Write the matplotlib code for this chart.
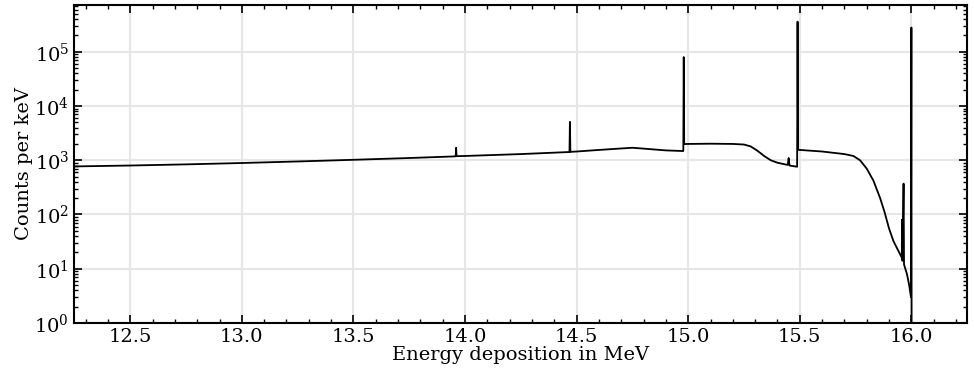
import matplotlib
matplotlib.use("Agg")
import matplotlib.pyplot as plt
from matplotlib.ticker import MultipleLocator, LogLocator, NullFormatter

# spectrum (MeV, counts per keV)
energy = [12.25, 12.5, 12.75, 13.0, 13.25, 13.5, 13.75, 13.958, 13.96, 13.962,
          14.0, 14.25, 14.468, 14.47, 14.472, 14.5, 14.6, 14.7, 14.75, 14.8,
          14.9, 14.978, 14.98, 14.982, 15.0, 15.1, 15.2, 15.25, 15.28, 15.31,
          15.34, 15.37, 15.4, 15.446, 15.45, 15.454, 15.47, 15.488, 15.49, 15.492,
          15.5, 15.6, 15.7, 15.74, 15.77, 15.8, 15.83, 15.86, 15.88, 15.9,
          15.92, 15.94, 15.957, 15.958, 15.96, 15.965, 15.967, 15.98, 15.99, 15.998,
          16.0, 16.001]
counts = [770, 800, 840, 890, 950, 1020, 1100, 1180, 1700, 1190,
          1200, 1300, 1420, 5100, 1430, 1450, 1550, 1650, 1700, 1640,
          1520, 1480, 80000, 1990, 2000, 2020, 2000, 1950, 1800, 1500,
          1200, 1000, 900, 820, 1100, 800, 780, 760, 360000, 1560,
          1550, 1450, 1300, 1200, 1000, 700, 420, 200, 110, 55,
          32, 22, 16, 80, 14, 370, 12, 8, 5, 3,
          280000, 1]

xticks = [12.5, 13.0, 13.5, 14.0, 14.5, 15.0, 15.5, 16.0]

plt.rcParams['font.family'] = ['DejaVu Serif']
plt.rcParams['mathtext.fontset'] = 'dejavuserif'

fig = plt.figure(figsize=(9.74, 3.84), dpi=100)
ax = fig.add_axes([0.076, 0.159, 0.917, 0.828])

ax.plot(energy, counts, color='black', lw=1.3)
ax.set_yscale('log')
ax.set_xlim(12.248, 16.25)
ax.set_ylim(1, 7.3e5)

ax.set_xticks(xticks)
ax.xaxis.set_minor_locator(MultipleLocator(0.1))
ax.yaxis.set_major_locator(LogLocator(base=10, numticks=10))
ax.yaxis.set_minor_locator(LogLocator(base=10, subs=range(2, 10), numticks=20))
ax.yaxis.set_minor_formatter(NullFormatter())

ax.grid(True, which='major', color='#e6e6e6', lw=1.5)
ax.set_axisbelow(True)
ax.tick_params(which='both', direction='in', top=True, right=True, labelsize=14)
ax.tick_params(which='major', length=6, width=1.2)
ax.tick_params(which='minor', length=3, width=1.0)
for s in ax.spines.values():
    s.set_linewidth(1.5)

ax.set_xlabel('Energy deposition in MeV', fontsize=14, labelpad=0)
ax.set_ylabel('Counts per keV', fontsize=14, labelpad=1)

fig.savefig('out.png', dpi=100)
